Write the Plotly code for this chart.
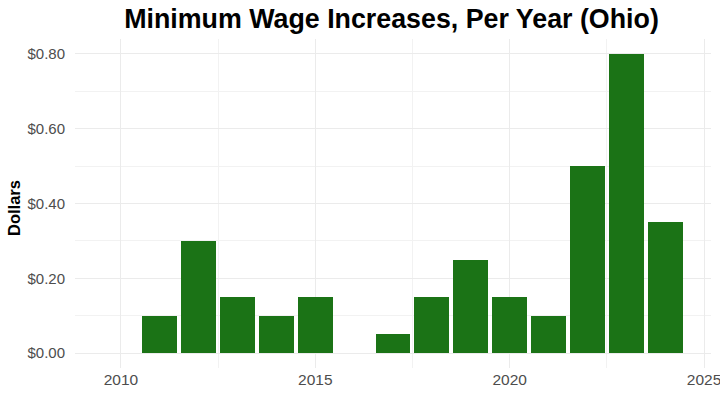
import plotly.graph_objects as go

years = [2010, 2011, 2012, 2013, 2014, 2015, 2016, 2017, 2018, 2019, 2020, 2021, 2022, 2023, 2024]
increases = [0.00, 0.10, 0.30, 0.15, 0.10, 0.15, 0.00, 0.05, 0.15, 0.25, 0.15, 0.10, 0.50, 0.80, 0.35]
x_ticks = [2010, 2015, 2020, 2025]
y_ticks = [0.0, 0.2, 0.4, 0.6, 0.8]
y_labels = ["$%.2f" % v for v in y_ticks]

W, H = 720, 397
L, R, T, B = 75, 9, 39, 29

fig = go.Figure(go.Bar(x=years, y=increases, width=0.9, marker=dict(color="#1b7316", line=dict(width=0))))

fig.update_layout(
    template="none",
    width=W, height=H,
    paper_bgcolor="white", plot_bgcolor="white",
    margin=dict(l=L, r=R, t=T, b=B, pad=0),
    font=dict(family="Liberation Sans, Arial, sans-serif", color="#4d4d4d", size=15.5),
    title=dict(text="<b>Minimum Wage Increases, Per Year (Ohio)</b>", x=391.5 / W, xanchor="center",
               y=1 - 19 / H, yanchor="middle", font=dict(size=26.8, color="black")),
    showlegend=False,
    bargap=0,
    annotations=[dict(text="<b>Dollars</b>", xref="paper", yref="paper", x=(14 - L) / (W - L - R),
                      y=(H - B - 208) / (H - T - B), xanchor="center", yanchor="middle", textangle=-90,
                      showarrow=False, font=dict(size=16.5, color="black"))],
)
fig.update_xaxes(range=[2008.82, 2025.18], tickvals=x_ticks, ticktext=[str(v) for v in x_ticks],
                 automargin=False, ticklabeloverflow="allow",
                 showgrid=True, gridcolor="#ebebeb", gridwidth=1, zeroline=False, showline=False, ticks="", ticklen=0,
                 minor=dict(showgrid=True, gridcolor="#f2f2f2", gridwidth=1, tickvals=[2012.5, 2017.5, 2022.5]),
                 tickfont=dict(size=15.5, color="#4d4d4d"))
fig.update_yaxes(range=[-0.04, 0.84], tickvals=y_ticks, ticktext=y_labels,
                 automargin=False,
                 showgrid=True, gridcolor="#ebebeb", gridwidth=1, zeroline=False, showline=False, ticks="", ticklen=0,
                 minor=dict(showgrid=True, gridcolor="#f2f2f2", gridwidth=1, tickvals=[0.1, 0.3, 0.5, 0.7]),
                 ticklabelstandoff=9,
                 tickfont=dict(size=15, color="#4d4d4d"))

fig.write_html("out.html", config={"displayModeBar": False},
               post_script="document.body.style.margin='0';document.body.style.overflow='hidden';")
